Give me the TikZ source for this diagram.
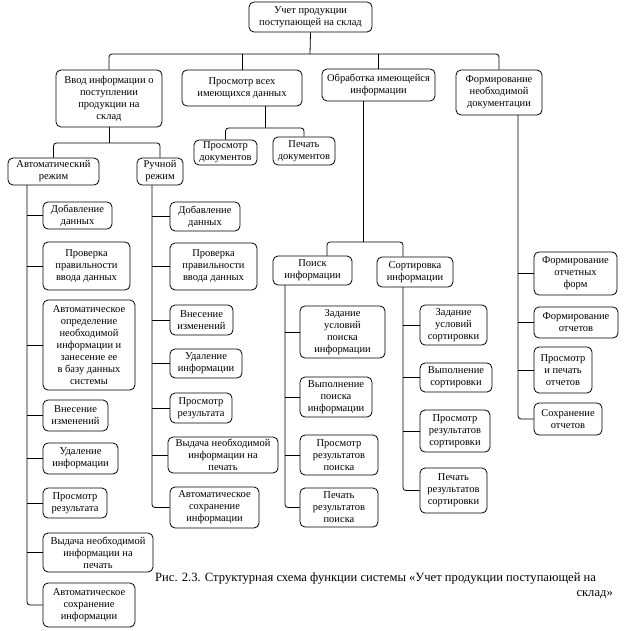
\documentclass[tikz,border=0pt]{standalone}
\usepackage{fontspec}
\setmainfont{Liberation Serif}
\usepackage{tikz}
\newcommand{\boxfont}{\rmfamily\fontsize{10.5}{12}\selectfont}
\newcommand{\capfont}{\rmfamily\fontsize{12.6}{15}\selectfont}

\begin{document}
\begin{tikzpicture}[x=1pt,y=-1pt,
  box/.style={draw,line width=0.8pt,rounded corners=5pt,align=center,inner sep=1pt,font=\boxfont},
  link/.style={draw,line width=0.8pt,rounded corners=3pt}]
\path[use as bounding box] (0,0) rectangle (624,631);
% top level
\node[box,minimum width=123,minimum height=30] (root) at (310.5,17) {Учет продукции\\поступающей на склад};
\node[box,minimum width=106,minimum height=57] (vvod) at (109,98.5) {Ввод информации о\\поступлении\\продукции на\\склад};
\node[box,minimum width=120,minimum height=36] (prosm) at (242,88) {Просмотр всех\\имеющихся данных};
\node[box,minimum width=113,minimum height=32] (obrab) at (378.5,85) {Обработка имеющейся\\информации};
\node[box,minimum width=86,minimum height=45] (form) at (499,92.5) {Формирование\\необходимой\\документации};
% second level
\node[box,minimum width=91,minimum height=27] (auto) at (53.5,171.5) {Автоматический\\режим};
\node[box,minimum width=46,minimum height=27] (ruch) at (160,171.5) {Ручной\\режим};
\node[box,minimum width=63,minimum height=25] (doc1) at (225.5,152.5) {Просмотр\\документов};
\node[box,minimum width=62,minimum height=28] (doc2) at (304,151) {Печать\\документов};
\node[box,minimum width=79,minimum height=29] (poisk) at (312.5,270.5) {Поиск\\информации};
\node[box,minimum width=76,minimum height=30] (sort) at (415,272) {Сортировка\\информации};
% automatic mode
\node[box,minimum width=69,minimum height=27] (a1) at (77.5,215.5) {Добавление\\данных};
\node[box,minimum width=87,minimum height=48] (a2) at (86.5,266) {Проверка\\правильности\\ввода данных};
\node[box,minimum width=92,minimum height=90] (a3) at (89,345) {Автоматическое\\определение\\необходимой\\информации и\\занесение ее\\в базу данных\\системы};
\node[box,minimum width=65,minimum height=31] (a4) at (75.5,415.5) {Внесение\\изменений};
\node[box,minimum width=75,minimum height=31] (a5) at (80.5,458.5) {Удаление\\информации};
\node[box,minimum width=64,minimum height=30] (a6) at (75,503) {Просмотр\\результата};
\node[box,minimum width=110,minimum height=39] (a7) at (98,552.5) {Выдача необходимой\\информации на\\печать};
\node[box,minimum width=92,minimum height=44] (a8) at (89,605) {Автоматическое\\сохранение\\информации};
% manual mode
\node[box,minimum width=70,minimum height=29] (r1) at (205,216.5) {Добавление\\данных};
\node[box,minimum width=87,minimum height=47] (r2) at (213.5,266.5) {Проверка\\правильности\\ввода данных};
\node[box,minimum width=63,minimum height=30] (r3) at (201.5,320) {Внесение\\изменений};
\node[box,minimum width=72,minimum height=29] (r4) at (206,363.5) {Удаление\\информации};
\node[box,minimum width=62,minimum height=30] (r5) at (201,408) {Просмотр\\результата};
\node[box,minimum width=110,minimum height=36] (r6) at (223,455) {Выдача необходимой\\информации на\\печать};
\node[box,minimum width=89,minimum height=41] (r7) at (214.5,507.5) {Автоматическое\\сохранение\\информации};
% search
\node[box,minimum width=85,minimum height=52] (p1) at (342.5,332) {Задание\\условий\\поиска\\информации};
\node[box,minimum width=72,minimum height=40] (p2) at (336,397) {Выполнение\\поиска\\информации};
\node[box,minimum width=78,minimum height=40] (p3) at (339,455) {Просмотр\\результатов\\поиска};
\node[box,minimum width=78,minimum height=39] (p4) at (339,507.5) {Печать\\результатов\\поиска};
% sorting
\node[box,minimum width=67,minimum height=40] (s1) at (453.5,325) {Задание\\условий\\сортировки};
\node[box,minimum width=72,minimum height=29] (s2) at (456,377.5) {Выполнение\\сортировки};
\node[box,minimum width=70,minimum height=42] (s3) at (455,431) {Просмотр\\результатов\\сортировки};
\node[box,minimum width=67,minimum height=45] (s4) at (453.5,490.5) {Печать\\результатов\\сортировки};
% documents
\node[box,minimum width=83,minimum height=43] (f1) at (575.5,273.5) {Формирование\\отчетных\\форм};
\node[box,minimum width=84,minimum height=31] (f2) at (576,322.5) {Формирование\\отчетов};
\node[box,minimum width=58,minimum height=46] (f3) at (563,370) {Просмотр\\и печать\\отчетов};
\node[box,minimum width=68,minimum height=32] (f4) at (568,419) {Сохранение\\отчетов};
% buses
\coordinate (bus1) at (310,54);
\coordinate (bus2) at (109,143);
\coordinate (bus3) at (265,128);
\coordinate (bus4) at (363,242);
\draw[link] (root.south) -- (bus1);
\draw[link] (vvod.north) |- (bus1) -| (form.north);
\draw[link] (prosm.north) -- (prosm.north |- bus1);
\draw[link] (obrab.north) -- (obrab.north |- bus1);
\draw[link] (vvod.south) -- (bus2);
\draw[link] (auto.north) |- (bus2) -| (ruch.north);
\draw[link] (prosm.south -| bus3) -- (bus3);
\draw[link] (doc1.north) |- (bus3) -| (doc2.north);
\draw[link] (obrab.south -| bus4) -- (bus4);
\draw[link] ([xshift=14.5pt]poisk.north) |- (bus4) -| ([xshift=-12pt]sort.north);
% spines
\coordinate (spA) at (27,185);
\coordinate (spR) at (152,185);
\coordinate (spP) at (285,285);
\coordinate (spS) at (403,287);
\coordinate (spF) at (518,115);
\draw[link] (spA) |- (a8.west);
\foreach \n in {a1,a2,a3,a4,a5,a6,a7} \draw[link] (\n.west) -- (\n.west -| spA);
\draw[link] (spR) |- (r7.west);
\foreach \n in {r1,r2,r3,r4,r5,r6} \draw[link] (\n.west) -- (\n.west -| spR);
\draw[link] (spP) |- (p4.west);
\foreach \n in {p1,p2,p3} \draw[link] (\n.west) -- (\n.west -| spP);
\draw[link] (spS) |- (s4.west);
\foreach \n in {s1,s2,s3} \draw[link] (\n.west) -- (\n.west -| spS);
\draw[link] (spF) |- (f4.west);
\foreach \n in {f1,f2,f3} \draw[link] (\n.west) -- (\n.west -| spF);
% caption
\node[anchor=base west,font=\capfont,inner sep=0pt] (cap1) at (155,581) {Рис. 2.3. Структурная схема функции системы «Учет продукции поступающей на};
\node[anchor=base east,font=\capfont,inner sep=0pt] (cap2) at (613,596) {склад»};
\end{tikzpicture}
\end{document}
